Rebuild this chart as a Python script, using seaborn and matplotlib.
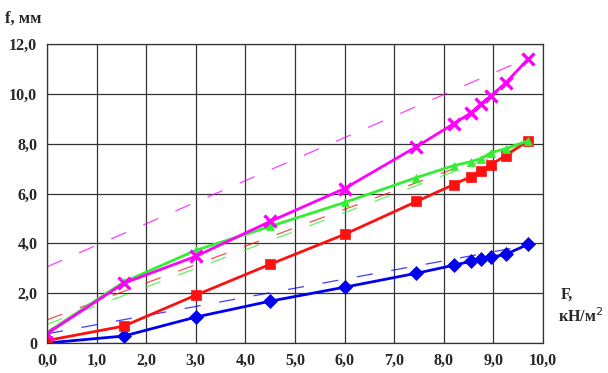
import numpy as np
import pandas as pd
import matplotlib
matplotlib.use("Agg")
import matplotlib.pyplot as plt
import seaborn as sns

# load F, kN/m2
F = [0.0, 1.55, 3.0, 4.5, 6.0, 7.45, 8.2, 8.55, 8.75, 8.95, 9.25, 9.7]

# deflection f, mm
f_blue = [0.0, 0.28, 1.04, 1.68, 2.24, 2.8, 3.12, 3.28, 3.36, 3.44, 3.56, 3.96]
f_red = [0.1, 0.68, 1.92, 3.16, 4.36, 5.68, 6.36, 6.68, 6.92, 7.16, 7.52, 8.12]
f_green = [0.42, 2.45, 3.72, 4.68, 5.64, 6.64, 7.12, 7.28, 7.4, 7.64, 7.8, 8.12]
f_magenta = [0.38, 2.4, 3.48, 4.88, 6.2, 7.88, 8.8, 9.24, 9.6, 9.92, 10.44, 11.4]

# dashed trend lines: value at F=0 and at F=9.7
trend_F = [0.0, 9.7]
trend_blue = [0.37, 3.92]
trend_red = [0.93, 8.1]
trend_green = [0.75, 8.0]
trend_magenta = [3.06, 11.44]

x_ticks = [0, 1, 2, 3, 4, 5, 6, 7, 8, 9, 10]
x_labels = ["0,0", "1,0", "2,0", "3,0", "4,0", "5,0", "6,0", "7,0", "8,0", "9,0", "10,0"]
y_ticks = [0, 2, 4, 6, 8, 10, 12]
y_labels = ["0", "2,0", "4,0", "6,0", "8,0", "10,0", "12,0"]

series = [
    (f_blue, trend_blue, "#0000ee", "D", 7),
    (f_red, trend_red, "#ff1010", "s", 6.5),
    (f_green, trend_green, "#33ee33", "^", 5.5),
    (f_magenta, trend_magenta, "#ff00ff", "x", 8.5),
]

sns.set_style("white")
plt.rcParams["font.family"] = ["Liberation Serif", "DejaVu Serif"]

fig = plt.figure(figsize=(6.08, 3.73), dpi=100)
ax = fig.add_axes([0.0773, 0.0804, 0.8157, 0.8016])

for vals, trend, color, marker, ms in series:
    sns.lineplot(x=trend_F, y=trend, ax=ax, color=color, linewidth=0.9,
                 dashes=False, linestyle=(0, (13, 15)), alpha=0.75)

for vals, trend, color, marker, ms in series:
    df = pd.DataFrame({"F": F, "f": vals})
    sns.lineplot(data=df, x="F", y="f", ax=ax, color=color, linewidth=2,
                 marker=marker, markersize=ms, markeredgecolor=color,
                 markeredgewidth=2.4 if marker == "x" else 0.5)

ax.set_xlim(0, 10)
ax.set_ylim(0, 12)
ax.set_xticks(x_ticks)
ax.set_xticklabels(x_labels)
ax.set_yticks(y_ticks)
ax.set_yticklabels(y_labels)
ax.grid(True, color="#333333", linewidth=0.9)
for s in ax.spines.values():
    s.set_color("#333333")
    s.set_linewidth(0.9)
ax.tick_params(axis="both", direction="out", length=5, width=0.9, color="#333333",
               labelsize=11.5, pad=2)
for lab in ax.get_xticklabels() + ax.get_yticklabels():
    lab.set_fontweight("bold")
ax.set_xlabel("")
ax.set_ylabel("")

fig.text(0.008, 0.95, "f, мм", fontsize=12, fontweight="bold", va="center", ha="left")
fig.text(0.922, 0.21, "F,", fontsize=11.5, fontweight="bold", va="center", ha="left")
fig.text(0.918, 0.15, "кН/м$^2$", fontsize=11.5, fontweight="bold", va="center", ha="left")

fig.savefig("out.png", dpi=100)
